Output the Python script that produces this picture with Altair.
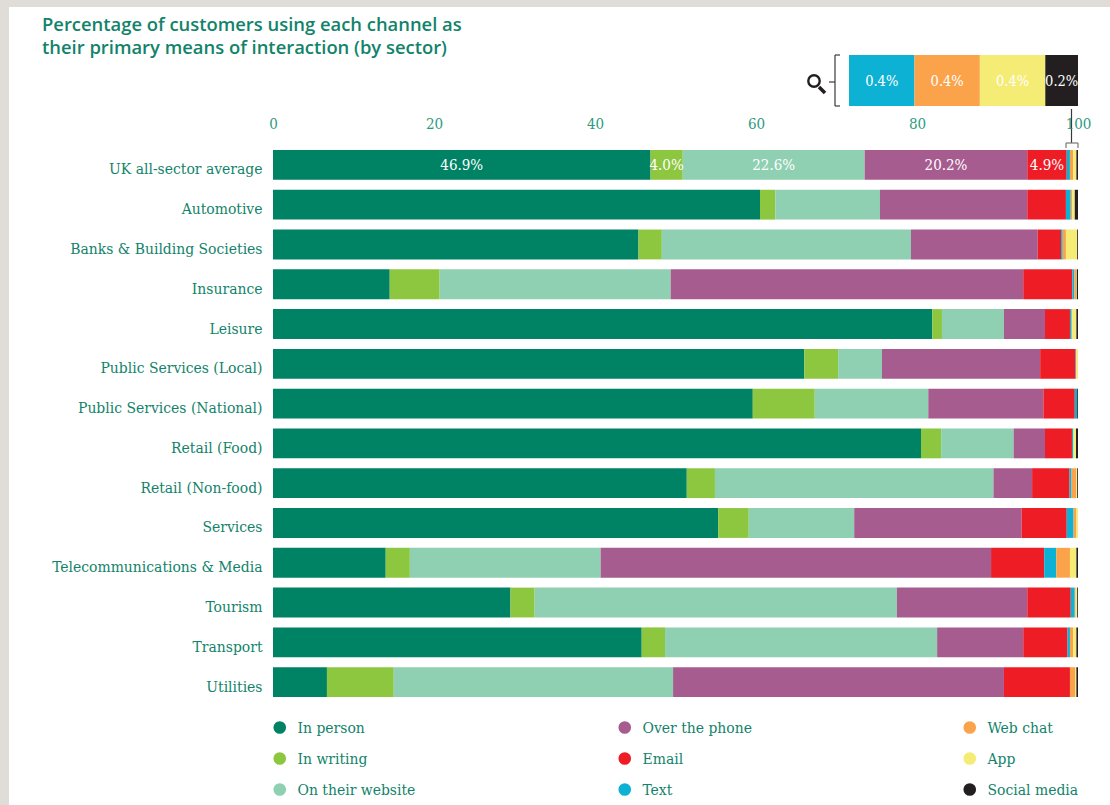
import altair as alt
import pandas as pd

SECTORS = ["UK all-sector average", "Automotive", "Banks & Building Societies", "Insurance",
           "Leisure", "Public Services (Local)", "Public Services (National)", "Retail (Food)",
           "Retail (Non-food)", "Services", "Telecommunications & Media", "Tourism",
           "Transport", "Utilities"]
CHANNELS = ["In person", "In writing", "On their website", "Over the phone", "Email",
            "Text", "Web chat", "App", "Social media"]
COLOURS = ["#008265", "#8DC63F", "#8ED0B1", "#A65C8F", "#EE1C25",
           "#0DB1D3", "#FAA34A", "#F4EC74", "#231F20"]

# Share of customers per channel, one list per sector, in channel order
UK_AVERAGE = [46.9, 4.0, 22.6, 20.2, 4.9, 0.4, 0.4, 0.4, 0.2]
AUTOMOTIVE = [60.5, 1.9, 13.0, 18.3, 4.8, 0.6, 0.2, 0.3, 0.4]
BANKS = [45.4, 2.9, 30.95, 15.75, 2.9, 0.2, 0.4, 1.4, 0.1]
INSURANCE = [14.5, 6.2, 28.7, 43.8, 6.1, 0.25, 0.2, 0.1, 0.15]
LEISURE = [81.9, 1.2, 7.7, 5.1, 3.1, 0.2, 0.1, 0.5, 0.2]
LOCAL = [66.0, 4.2, 5.45, 19.65, 4.4, 0.05, 0.05, 0.2, 0.0]
NATIONAL = [59.6, 7.7, 14.1, 14.3, 3.9, 0.3, 0.0, 0.0, 0.1]
FOOD = [80.5, 2.5, 9.0, 3.9, 3.35, 0.15, 0.05, 0.3, 0.25]
NON_FOOD = [51.4, 3.5, 34.6, 4.8, 4.65, 0.25, 0.6, 0.1, 0.1]
SERVICES = [55.3, 3.8, 13.1, 20.8, 5.6, 0.85, 0.35, 0.2, 0.0]
TELECOMS = [14.0, 3.0, 23.7, 48.5, 6.6, 1.5, 1.7, 0.8, 0.2]
TOURISM = [29.5, 3.0, 45.0, 16.2, 5.4, 0.5, 0.1, 0.2, 0.1]
TRANSPORT = [45.8, 2.9, 33.8, 10.7, 5.5, 0.3, 0.4, 0.4, 0.2]
UTILITIES = [6.7, 8.3, 34.7, 41.1, 8.2, 0.0, 0.65, 0.15, 0.2]
SHARES = [UK_AVERAGE, AUTOMOTIVE, BANKS, INSURANCE, LEISURE, LOCAL, NATIONAL, FOOD,
          NON_FOOD, SERVICES, TELECOMS, TOURISM, TRANSPORT, UTILITIES]

# The enlarged strip above the chart repeats the four smallest average shares
DETAIL_CHANNELS = CHANNELS[5:]
DETAIL_SHARES = UK_AVERAGE[5:]

TICKS = [0, 20, 40, 60, 80, 100]
TITLE = ["Percentage of customers using each channel as",
         "their primary means of interaction (by sector)"]

TEAL = "#12836A"
SERIF = "DejaVu Serif Condensed"
SANS = "Open Sans"

rows = []
for sector, shares in zip(SECTORS, SHARES):
    running = 0.0
    for channel, share in zip(CHANNELS, shares):
        rows.append({"sector": sector, "channel": channel, "share": share,
                     "start": running, "end": running + share,
                     "mid": running + share / 2})
        running += share
bars_df = pd.DataFrame(rows)
labels_df = bars_df[(bars_df.sector == SECTORS[0]) & (bars_df.share >= 1)].copy()
labels_df["label"] = labels_df.share.map("{:.1f}%".format)

detail_rows = []
running = 0.0
for channel, share in zip(DETAIL_CHANNELS, DETAIL_SHARES):
    detail_rows.append({"channel": channel, "row": "detail", "start": running,
                        "end": running + share, "mid": running + share / 2,
                        "label": f"{share:.1f}%"})
    running += share
detail_df = pd.DataFrame(detail_rows)

colour = alt.Color(
    "channel:N",
    scale=alt.Scale(domain=CHANNELS, range=COLOURS),
    legend=alt.Legend(
        title=None, orient="none", legendX=-1, legendY=574, columns=3, direction="vertical",
        gridAlign="all", columnPadding=201, rowPadding=14, padding=0,
        symbolType="circle", symbolSize=160, symbolStrokeWidth=0, symbolOpacity=1,
        labelFont=SERIF, labelFontSize=15.5, labelColor=TEAL, labelOffset=10,
        labelLimit=200, clipHeight=17,
    ),
)

x_scale = alt.Scale(domain=[0, 100], nice=False)
y_scale = alt.Scale(domain=SECTORS, paddingInner=0.25, paddingOuter=0.125)

bars = alt.Chart(bars_df).mark_bar(stroke=None, cornerRadius=0).encode(
    x=alt.X("start:Q", scale=x_scale, title=None,
            axis=alt.Axis(orient="top", values=TICKS, format="d", domain=False, ticks=False,
                          grid=False, labelPadding=14, labelFlush=False, labelFont=SERIF,
                          labelFontSize=15, labelColor="#2E9A80", zindex=1)),
    x2="end:Q",
    y=alt.Y("sector:N", scale=y_scale, title=None, sort=SECTORS,
            axis=alt.Axis(domain=False, ticks=False, labelPadding=11, labelOffset=4.5,
                          labelFont=SERIF, labelFontSize=15.5, labelColor=TEAL,
                          labelLimit=260, zindex=1)),
    color=colour,
)
bar_labels = alt.Chart(labels_df).mark_text(
    color="white", font=SERIF, fontSize=15, baseline="middle"
).encode(
    x=alt.X("mid:Q", scale=x_scale),
    y=alt.Y("sector:N", scale=y_scale, sort=SECTORS),
    text="label:N",
)
main = alt.layer(bars, bar_labels)

# Enlarged strip: its own scales place it above the top axis
detail_x = alt.Scale(domain=[0, 1.4], range=[576, 805], nice=False)
detail_y = alt.Scale(domain=["detail"], range=[-90, -39], paddingInner=0, paddingOuter=0)
detail_bars = alt.Chart(detail_df).mark_bar(stroke=None).encode(
    x=alt.X("start:Q", scale=detail_x, axis=None),
    x2="end:Q",
    y=alt.Y("row:N", scale=detail_y, axis=None),
    color=alt.Color("channel:N", scale=alt.Scale(domain=CHANNELS, range=COLOURS)),
)
detail_labels = alt.Chart(detail_df).mark_text(
    color="white", font=SERIF, fontSize=14.5, baseline="middle", dy=1
).encode(
    x=alt.X("mid:Q", scale=detail_x, axis=None),
    y=alt.Y("row:N", scale=detail_y, axis=None),
    text="label:N",
)
detail = alt.layer(detail_bars, detail_labels)

anchor = pd.DataFrame({"a": [0]})


def rule(x0, x1, y0, y1, color="#3a3a3a", width=1.2):
    return alt.Chart(anchor).mark_rule(color=color, strokeWidth=width).encode(
        x=alt.value(x0), x2=alt.value(x1), y=alt.value(y0), y2=alt.value(y1)
    )


panel = alt.Chart(anchor).mark_rect(color="white").encode(
    x=alt.value(-264), x2=alt.value(837), y=alt.value(-138), y2=alt.value(660)
)

# Bracket and magnifying glass beside the strip, and the leader down to the top bar
callouts = [
    rule(567, 562, -90, -90), rule(562, 562, -90, -39), rule(562, 567, -39, -39),
    rule(562, 556, -63, -63),
    rule(798.5, 798.5, -36, -2), rule(793, 805, -2, -2, "#777777"),
    rule(793, 793, -2, 3, "#777777"), rule(805, 805, -2, 3, "#777777"),
    rule(546, 552, -58, -52, "#231F20", 3.5),
    alt.Chart(anchor).mark_point(filled=False, color="#231F20", size=130, strokeWidth=2.4,
                                 opacity=1).encode(x=alt.value(541), y=alt.value(-64)),
]

chart = alt.layer(panel, main, detail, *callouts).resolve_scale(
    x="independent", y="independent"
).properties(
    width=805,
    height=557,
    autosize=alt.AutoSizeParams(type="none"),
    padding={"left": 273, "top": 145, "right": 32, "bottom": 103},
    background="#E0DDD8",
    title=alt.TitleParams(
        text=TITLE, anchor="start", frame="group", orient="top", dx=-231, offset=0, dy=50,
        font=SANS, fontSize=18.4, fontWeight=600, color=TEAL, lineHeight=23,
    ),
).configure_view(stroke=None)

chart.save("out.html", embed_options={"renderer": "svg", "actions": False})
